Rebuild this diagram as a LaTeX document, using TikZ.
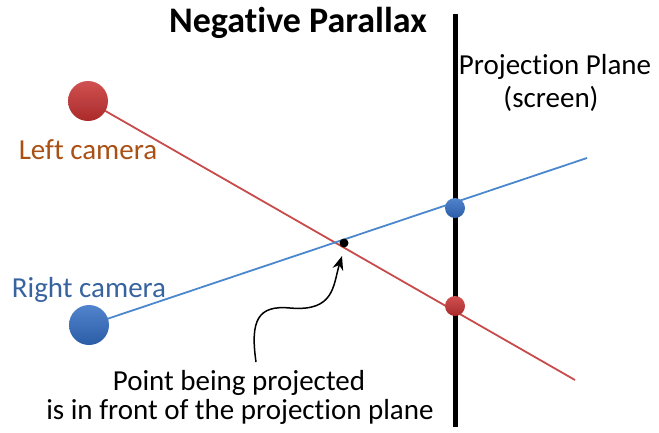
\documentclass[tikz,border=0pt]{standalone}
\usepackage{fontspec}
\setmainfont[Ligatures=NoCommon]{Carlito}
\usetikzlibrary{arrows.meta}

\definecolor{camred}{RGB}{200,50,50}
\definecolor{camblue}{RGB}{50,110,195}
\definecolor{leftlabel}{RGB}{170,80,20}
\definecolor{rightlabel}{RGB}{55,100,160}
\definecolor{redline}{RGB}{200,75,75}
\definecolor{blueline}{RGB}{75,135,205}

\tikzset{
    camball/.style={circle, minimum size=40pt, inner sep=0pt, top color=#1!85!white, bottom color=#1!85!black},
    planedot/.style={circle, minimum size=20pt, inner sep=0pt, top color=#1!85!white, bottom color=#1!85!black},
    lbl/.style={font=\fontsize{29}{34}\selectfont, inner sep=0pt}
}

\begin{document}
\begin{tikzpicture}[x=1pt,y=-1pt]
    \useasboundingbox (0,0) rectangle (659,432);

    \draw[line width=5pt] (455,14) coordinate (ptop) -- (455,427) coordinate (pbot);

    \node[lbl, font=\fontsize{36}{40}\selectfont\bfseries] (title) at (298,23) {Negative Parallax};
    \node[lbl] (plane) at (555,67) {Projection Plane};
    \node[lbl] (screen) at (551,99) {(screen)};

    \coordinate (redend) at (575,380);
    \coordinate (blueend) at (587,158);
    \draw[redline, line width=1.8pt] (88,101) coordinate (lc) -- (redend);
    \draw[blueline, line width=1.8pt] (89,325) coordinate (rc) -- (blueend);

    \node[camball=camred] (leftcam) at (lc) {};
    \node[camball=camblue] (rightcam) at (rc) {};
    \node[planedot=camred] (reddot) at (455,306) {};
    \node[planedot=camblue] (bluedot) at (455,208) {};
    \node[circle, fill=black, minimum size=9pt, inner sep=0pt] (point) at (344,243) {};

    \node[lbl, text=leftlabel] (leftlbl) at (88,150) {Left camera};
    \node[lbl, text=rightlabel] (rightlbl) at (89,290) {Right camera};

    \node[lbl] (cap1) at (239,383) {Point being projected};
    \node[lbl] (cap2) at (240,412) {is in front of the projection plane};

    \draw[line width=1.5pt, -{Stealth[length=14pt, width=11pt]}] (256,362) .. controls (250,320) and (258,305) .. (290,308) .. controls (335,312) and (333,285) .. (342,256);
\end{tikzpicture}
\end{document}
